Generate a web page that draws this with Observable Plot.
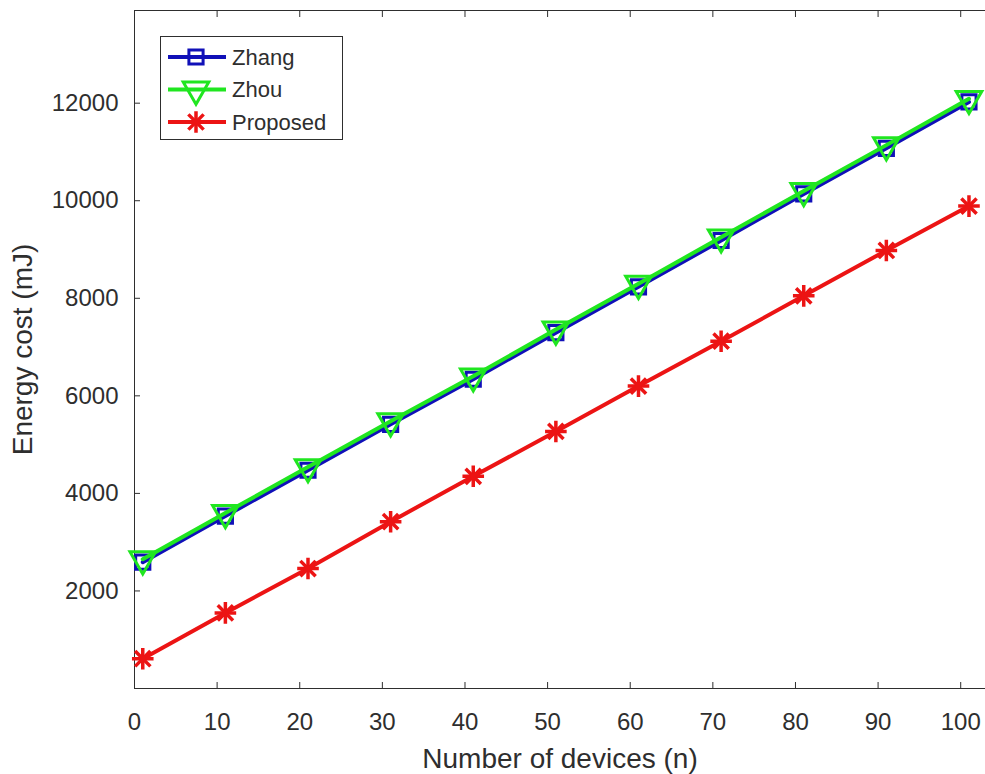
<!DOCTYPE html>
<html>
<head>
<meta charset="utf-8">
<script src="https://cdn.jsdelivr.net/npm/d3@7"></script>
<script src="https://cdn.jsdelivr.net/npm/@observablehq/plot@0.6"></script>
<style>
  html, body { margin: 0; padding: 0; background: #fff; }
  #wrap { position: relative; width: 985px; height: 774px; font-family: "Liberation Sans", Arial, Helvetica, sans-serif; }
  #legend { position: absolute; left: 0; top: 0; }
</style>
</head>
<body>
<div id="wrap"></div>
<script>
// ---- data ----
const devices = [1, 11, 21, 31, 41, 51, 61, 71, 81, 91, 101];
const zhang = [2590, 3535, 4475, 5415, 6340, 7295, 8235, 9185, 10140, 11075, 12025];
const zhou = [2650, 3600, 4540, 5480, 6400, 7360, 8300, 9250, 10200, 11140, 12090];
const proposed = [610, 1550, 2460, 3420, 4350, 5270, 6200, 7120, 8050, 8980, 9890];
const seriesNames = ["Zhang", "Zhou", "Proposed"];
const xTicks = [0, 10, 20, 30, 40, 50, 60, 70, 80, 90, 100];
const yTicks = [2000, 4000, 6000, 8000, 10000, 12000];
const xDomain = [0, 103];
const yDomain = [0, 13900];
const xLabel = "Number of devices (n)";
const yLabel = "Energy cost (mJ)";

const colors = { Zhang: "#1010b8", Zhou: "#20e620", Proposed: "#ec1414" };
const axisColor = "#2e2e2e";

const rows = [];
devices.forEach((d, i) => {
  rows.push({ n: d, v: zhang[i], s: "Zhang" });
  rows.push({ n: d, v: zhou[i], s: "Zhou" });
  rows.push({ n: d, v: proposed[i], s: "Proposed" });
});
const bySeries = s => rows.filter(r => r.s === s);

const font = '"Liberation Sans", Arial, Helvetica, sans-serif';

const chart = Plot.plot({
  width: 985,
  height: 774,
  marginLeft: 134,
  marginRight: 0,
  marginTop: 10,
  marginBottom: 86,
  style: { fontFamily: font, background: "#fff", overflow: "visible" },
  x: { domain: xDomain, ticks: xTicks },
  y: { domain: yDomain, ticks: yTicks },
  marks: [
    Plot.frame({ anchor: "bottom", stroke: axisColor }),
    Plot.frame({ anchor: "left", stroke: axisColor }),
    Plot.frame({ anchor: "top", stroke: axisColor }),
    // inward ticks
    Plot.axisX({ anchor: "bottom", ticks: xTicks, tickSize: -6, tickFormat: () => "", label: null, stroke: axisColor }),
    Plot.axisX({ anchor: "top", ticks: xTicks, tickSize: -6, tickFormat: () => "", label: null, stroke: axisColor }),
    Plot.axisY({ anchor: "left", ticks: yTicks, tickSize: -6, tickFormat: () => "", label: null, stroke: axisColor }),
    // labels
    Plot.axisX({ anchor: "bottom", ticks: xTicks, tickSize: 0, tickPadding: 24, fontSize: 24, fill: axisColor,
      label: xLabel, labelAnchor: "center", labelArrow: "none", labelOffset: 79 }),
    Plot.axisY({ anchor: "left", ticks: yTicks, tickSize: 0, tickPadding: 16, fontSize: 24, fill: axisColor,
      tickFormat: d => String(d),
      label: yLabel, labelAnchor: "center", labelArrow: "none", labelOffset: 122 }),
    // Zhang
    Plot.line(bySeries("Zhang"), { x: "n", y: "v", stroke: colors.Zhang, strokeWidth: 4 }),
    Plot.dot(bySeries("Zhang"), { x: "n", y: "v", symbol: "square", r: 8, stroke: colors.Zhang, strokeWidth: 3, fill: "none" }),
    // Zhou
    Plot.line(bySeries("Zhou"), { x: "n", y: "v", stroke: colors.Zhou, strokeWidth: 4 }),
    Plot.dot(bySeries("Zhou"), { x: "n", y: "v", symbol: "triangle", rotate: 180, r: 9.5, stroke: colors.Zhou, strokeWidth: 3, fill: "none" }),
    // Proposed
    Plot.line(bySeries("Proposed"), { x: "n", y: "v", stroke: colors.Proposed, strokeWidth: 4 }),
    Plot.dot(bySeries("Proposed"), { x: "n", y: "v", symbol: "plus", r: 7, stroke: colors.Proposed, strokeWidth: 3.5 }),
    Plot.dot(bySeries("Proposed"), { x: "n", y: "v", symbol: "times", r: 7, stroke: colors.Proposed, strokeWidth: 3.5 })
  ]
});

// axis title font size
d3.select(chart).selectAll("g[aria-label='x-axis label'] text, g[aria-label='y-axis label'] text")
  .style("font-size", "28px").attr("fill", axisColor);

document.getElementById("wrap").appendChild(chart);

// ---- legend ----
const legend = d3.select("#wrap").append("svg")
  .attr("id", "legend").attr("width", 985).attr("height", 774)
  .style("pointer-events", "none");
const box = { x: 160.5, y: 36.5, w: 182, h: 103 };
legend.append("rect").attr("x", box.x).attr("y", box.y).attr("width", box.w).attr("height", box.h)
  .attr("fill", "#fff").attr("stroke", axisColor).attr("stroke-width", 1);
const symbolsFor = {
  Zhang: [{ type: d3.symbolSquare, size: Math.PI * 8 * 8, rot: 0 }],
  Zhou: [{ type: d3.symbolTriangle, size: Math.PI * 9.5 * 9.5, rot: 180 }],
  Proposed: [{ type: d3.symbolPlus, size: Math.PI * 49, rot: 0 }, { type: d3.symbolTimes, size: Math.PI * 49, rot: 0 }]
};
seriesNames.forEach((s, i) => {
  const cy = 57 + i * 32.5;
  const g = legend.append("g");
  g.append("line").attr("x1", 168).attr("x2", 226).attr("y1", cy).attr("y2", cy)
    .attr("stroke", colors[s]).attr("stroke-width", 4);
  symbolsFor[s].forEach(sym => {
    g.append("path").attr("d", d3.symbol(sym.type, sym.size)())
      .attr("transform", `translate(196,${cy}) rotate(${sym.rot})`)
      .attr("fill", "none").attr("stroke", colors[s]).attr("stroke-width", s === "Proposed" ? 3.5 : 3);
  });
  g.append("text").attr("x", 232).attr("y", cy).attr("dy", "0.35em")
    .attr("font-family", font).attr("font-size", 22).attr("fill", axisColor).text(s);
});
</script>
</body>
</html>
